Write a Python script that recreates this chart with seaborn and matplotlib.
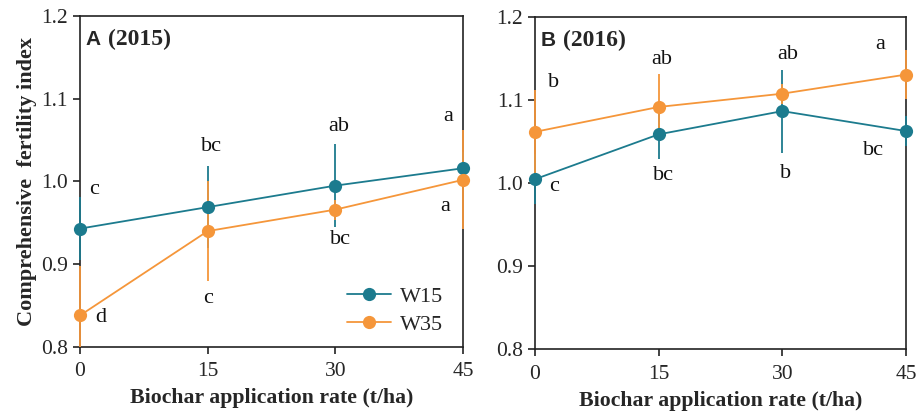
import matplotlib
matplotlib.use("Agg")
import matplotlib.pyplot as plt
from matplotlib.transforms import Bbox, TransformedBbox
import seaborn as sns
import pandas as pd
import numpy as np

rates = [0, 15, 30, 45]
series = ["W15", "W35"]

# Panel A (2015)
a_w15 = [0.943, 0.969, 0.995, 1.016]
a_w15_err = [0.038, 0.050, 0.050, 0.020]
a_w35 = [0.838, 0.940, 0.966, 1.002]
a_w35_err = [0.060, 0.060, 0.012, 0.060]

# Panel B (2016)
b_w15 = [1.005, 1.059, 1.087, 1.063]
b_w15_err = [0.030, 0.030, 0.050, 0.018]
b_w35 = [1.062, 1.092, 1.108, 1.131]
b_w35_err = [0.050, 0.040, 0.012, 0.030]

colors = {"W15": "#1c7b8e", "W35": "#f5963a"}

sns.set_theme(style="ticks")
plt.rcParams["font.family"] = ["Liberation Serif", "DejaVu Serif"]

fig = plt.figure(figsize=(9.17, 4.12), dpi=100)
axA = fig.add_axes([0.0872, 0.158, 0.4178, 0.803])
axB = fig.add_axes([0.5834, 0.152, 0.4046, 0.806])


def draw(ax, w15, w15e, w35, w35e, letters, title_letter, title_year, legend):
    df = pd.DataFrame({
        "rate": rates * 2,
        "value": w15 + w35,
        "err": w15e + w35e,
        "series": ["W15"] * 4 + ["W35"] * 4,
    })
    clipbox = TransformedBbox(Bbox([[-0.03, 0.0], [1.03, 1.0]]), ax.transAxes)
    for s in series:
        d = df[df.series == s]
        eb = ax.errorbar(d.rate, d.value, yerr=d.err, fmt="none", ecolor=colors[s],
                         elinewidth=1.3, capsize=0, zorder=4 if s == "W35" else 3)
        for coll in eb.lines[2]:
            coll.set_clip_box(clipbox)
    sns.lineplot(data=df, x="rate", y="value", hue="series", palette=colors,
                 marker="o", markersize=9.5, markeredgewidth=0, linewidth=1.3,
                 ax=ax, legend=legend, zorder=5)
    for line in ax.lines:
        line.set_clip_on(False)
    for (x, y, t) in letters:
        ax.text(x, y, t, fontsize=16, ha="center", va="center", color="#111111")
    ax.set_xlim(0, 45)
    ax.set_ylim(0.8, 1.2)
    ax.set_xticks(rates)
    ax.set_yticks([0.8, 0.9, 1.0, 1.1, 1.2])
    ax.set_yticklabels(["0.8", "0.9", "1.0", "1.1", "1.2"])
    ax.tick_params(labelsize=15.5, length=5, width=1.2, color="#222222", direction="out")
    ax.tick_params(axis="x", pad=6)
    for sp in ax.spines.values():
        sp.set_visible(True)
        sp.set_linewidth(1.2)
        sp.set_color("#222222")
        sp.set_zorder(2)
    ax.set_xlabel("Biochar application rate (t/ha)", fontsize=15.7, fontweight="bold", labelpad=5)
    ax.set_ylabel("")
    ax.text(0.015, 0.93, title_letter, transform=ax.transAxes, fontsize=15,
            fontweight="bold", family=["Liberation Sans", "DejaVu Sans"], va="center")
    ax.text(0.072 if title_letter == "A" else 0.075, 0.93, title_year, transform=ax.transAxes,
            fontsize=17, fontweight="bold", va="center")


lettersA = [(1.6, 0.990, "c"), (2.4, 0.835, "d"), (15.5, 1.042, "bc"), (15.0, 0.858, "c"),
            (30.4, 1.066, "ab"), (30.6, 0.930, "bc"), (43.2, 1.079, "a"), (42.9, 0.970, "a")]
lettersB = [(2.2, 1.122, "b"), (2.3, 0.996, "c"), (15.4, 1.149, "ab"), (15.6, 1.010, "bc"),
            (30.7, 1.155, "ab"), (30.4, 1.012, "b"), (41.9, 1.167, "a"), (41.1, 1.040, "bc")]

draw(axA, a_w15, a_w15_err, a_w35, a_w35_err, lettersA, "A", "(2015)", True)
draw(axB, b_w15, b_w15_err, b_w35, b_w35_err, lettersB, "B", "(2016)", False)

axA.set_ylabel("Comprehensive  fertility index", fontsize=16, fontweight="bold", labelpad=3)
leg = axA.legend(loc="lower right", bbox_to_anchor=(1.0, -0.025), frameon=False, fontsize=16,
                 handlelength=2.0, handletextpad=0.4, labelspacing=0.35, title=None)

fig.savefig("out.png", dpi=100)
